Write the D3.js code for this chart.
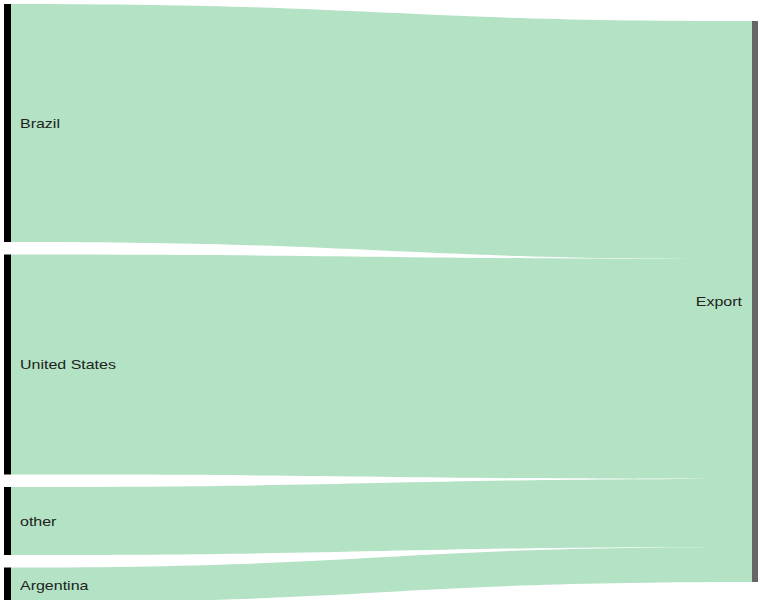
<!DOCTYPE html>
<html>
<head>
<meta charset="utf-8">
<script src="https://cdn.jsdelivr.net/npm/d3@7"></script>
<style>
  body { margin: 0; background: #fff; }
  text { font-family: Arial, "Liberation Sans", sans-serif; font-size: 13px; fill: #222; }
</style>
</head>
<body>
<div id="chart-area"></div>
<script>
// flows into the single target node
var sources = ["Brazil", "United States", "other", "Argentina"];
var flows = [238, 220, 68, 35];
var target = "Export";

var width = 758, height = 600;
var nodeWidth = 7, nodePadding = 12.5;
var leftTop = 4, rightTop = 21;
var stretch = 1.23; // labels look horizontally stretched in the original

var total = d3.sum(flows);

var x = d3.scaleLinear().domain([0, 1]).range([4, 752]);
var h = d3.scaleLinear().domain([0, total]).range([0, 561]);

// stack the source nodes and their link ends
var nodes = [];
var yl = leftTop, yr = rightTop;
sources.forEach(function(s, i) {
  var hh = h(flows[i]);
  nodes.push({name: s, value: flows[i], y0: yl, y1: yl + hh, ty0: yr, ty1: yr + hh});
  yl += hh + nodePadding;
  yr += hh;
});

var svg = d3.select("#chart-area")
  .append("svg")
  .attr("width", width)
  .attr("height", height);

var x0 = x(0) + nodeWidth, x1 = x(1), xm = (x0 + x1) / 2;

function band(d) {
  var p = d3.path();
  p.moveTo(x0, d.y0);
  p.bezierCurveTo(xm, d.y0, xm, d.ty0, x1, d.ty0);
  p.lineTo(x1, d.ty1);
  p.bezierCurveTo(xm, d.ty1, xm, d.y1, x0, d.y1);
  p.closePath();
  return p.toString();
}

svg.append("g")
  .selectAll("path")
  .data(nodes)
  .enter().append("path")
  .attr("d", band)
  .attr("fill", "#b3e2c4");

svg.append("g")
  .selectAll("rect")
  .data(nodes)
  .enter().append("rect")
  .attr("x", x(0))
  .attr("y", function(d) { return d.y0; })
  .attr("width", nodeWidth)
  .attr("height", function(d) { return d.y1 - d.y0; })
  .attr("fill", "#000");

svg.append("rect")
  .attr("x", x(1))
  .attr("y", rightTop)
  .attr("width", 6)
  .attr("height", h(total))
  .attr("fill", "#666");

svg.append("g")
  .selectAll("text")
  .data(nodes)
  .enter().append("text")
  .attr("transform", function(d) {
    return "translate(" + (x(0) + 16) + "," + ((d.y0 + d.y1) / 2) + ") scale(" + stretch + ",1)";
  })
  .attr("dy", "0.35em")
  .text(function(d) { return d.name; });

svg.append("text")
  .attr("transform", "translate(" + (x(1) - 10) + "," + (rightTop + h(total) / 2) + ") scale(" + stretch + ",1)")
  .attr("dy", "0.35em")
  .attr("text-anchor", "end")
  .text(target);
</script>
</body>
</html>
